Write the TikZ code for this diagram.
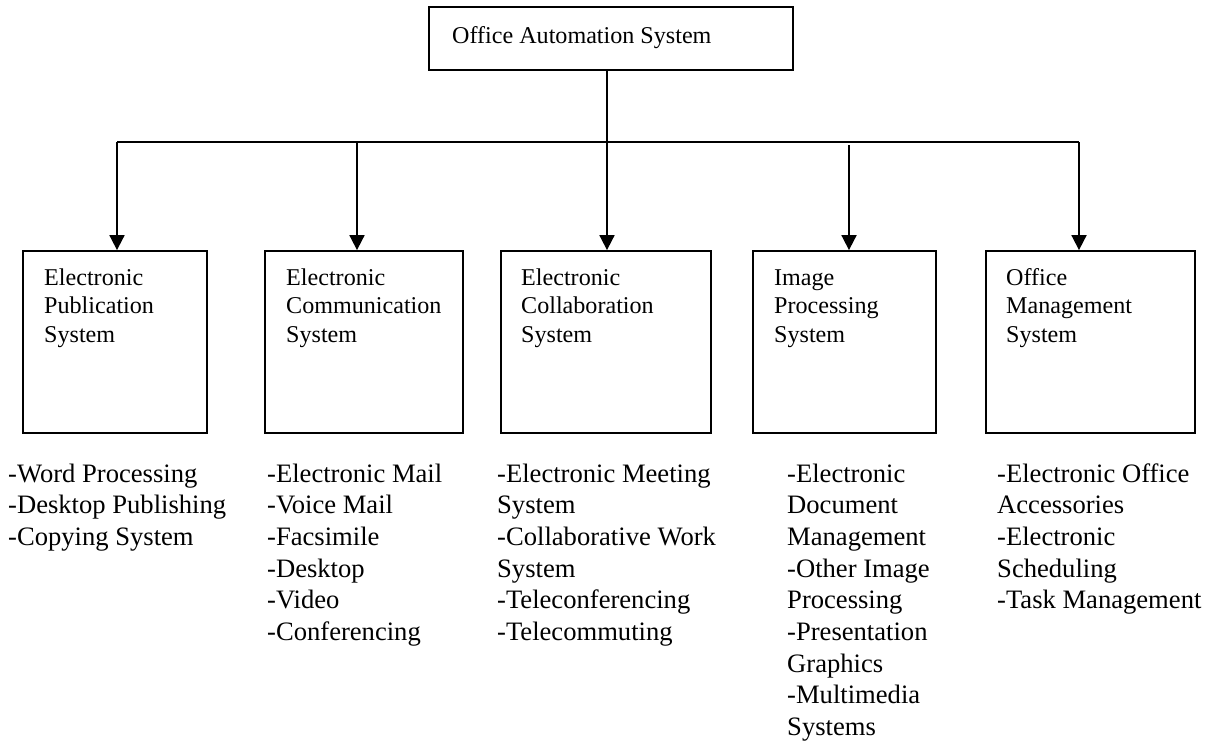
\documentclass[tikz,border=0pt]{standalone}
\usepackage{fontspec}
\setmainfont{Liberation Serif}
\usetikzlibrary{arrows.meta}
\begin{document}
\begin{tikzpicture}[x=1pt,y=-1pt,
  boxst/.style={draw,line width=1.8pt,minimum height=182pt,inner sep=0pt},
  boxtxt/.style={anchor=base west,inner sep=0pt,font=\fontsize{24.1}{28.7}\selectfont,align=left},
  listtxt/.style={anchor=base west,inner sep=0pt,font=\fontsize{26.6}{31.7}\selectfont,align=left},
  conn/.style={line width=1.8pt},
  arr/.style={line width=1.8pt,-{Triangle[length=15pt,width=15pt]}}]
\useasboundingbox (0,0) rectangle (1215,742);
% top box
\node[draw,line width=1.8pt,minimum width=364pt,minimum height=63pt,inner sep=0pt] (top) at (611,38.5) {};
\node[anchor=base west,inner sep=0pt,font=\fontsize{24.1}{28.7}\selectfont] (toptxt) at (452,43) {Office Automation System};
% boxes
\node[boxst,minimum width=184pt] (b1) at (115,342) {};
\node[boxst,minimum width=198pt] (b2) at (364,342) {};
\node[boxst,minimum width=210pt] (b3) at (606,342) {};
\node[boxst,minimum width=183pt] (b4) at (844.5,342) {};
\node[boxst,minimum width=209pt] (b5) at (1090.5,342) {};
\node[boxtxt] (t1) at (44,285) {\parbox[t]{160pt}{Electronic\\Publication\\System}};
\node[boxtxt] (t2) at (286,285) {\parbox[t]{170pt}{Electronic\\Communication\\System}};
\node[boxtxt] (t3) at (521,285) {\parbox[t]{180pt}{Electronic\\Collaboration\\System}};
\node[boxtxt] (t4) at (774,285) {\parbox[t]{160pt}{Image\\Processing\\System}};
\node[boxtxt] (t5) at (1006,285) {\parbox[t]{180pt}{Office\\Management\\System}};
% lists
\node[listtxt] (l1) at (8,482) {\parbox[t]{250pt}{-Word Processing\\-Desktop Publishing\\-Copying System}};
\node[listtxt] (l2) at (267,482) {\parbox[t]{230pt}{-Electronic Mail\\-Voice Mail\\-Facsimile\\-Desktop\\-Video\\-Conferencing}};
\node[listtxt] (l3) at (497,482) {\parbox[t]{250pt}{-Electronic Meeting\\System\\-Collaborative Work\\System\\-Teleconferencing\\-Telecommuting}};
\node[listtxt] (l4) at (787,482) {\parbox[t]{200pt}{-Electronic\\Document\\Management\\-Other Image\\Processing\\-Presentation\\Graphics\\-Multimedia\\Systems}};
\node[listtxt] (l5) at (997,482) {\parbox[t]{230pt}{-Electronic Office\\Accessories\\-Electronic\\Scheduling\\-Task Management}};
% connectors
\coordinate (j1) at (117,142);
\coordinate (j2) at (357,142);
\coordinate (j3) at (607,142);
\coordinate (j4) at (849,145);
\coordinate (j5) at (1079,142);
\draw[conn] (top.south -| j3) -- (j3);
\draw[conn] (j1) -- (j5);
\draw[arr] (j1) -- (j1 |- b1.north);
\draw[arr] (j2) -- (j2 |- b2.north);
\draw[arr] (j3) -- (j3 |- b3.north);
\draw[arr] (j4) -- (j4 |- b4.north);
\draw[arr] (j5) -- (j5 |- b5.north);
\end{tikzpicture}
\end{document}
